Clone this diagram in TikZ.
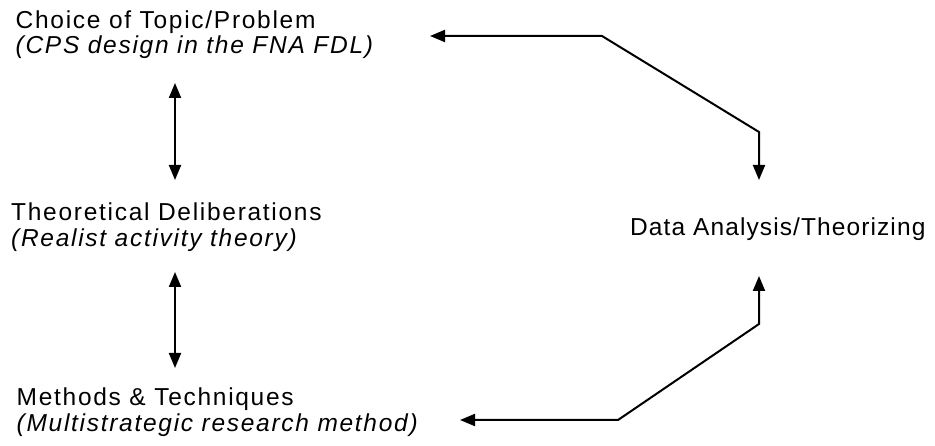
\documentclass[tikz,border=0pt]{standalone}
\usepackage{fontspec}
\setmainfont{Liberation Sans}[LetterSpace=7]
\usetikzlibrary{arrows.meta}
\begin{document}
\begin{tikzpicture}[x=1pt,y=-1pt,
  lbl/.style={anchor=base west, inner sep=0pt, font=\fontsize{24.5}{25.5}\selectfont},
  dconn/.style={line width=2pt, {Triangle[length=15pt,width=12pt]}-{Triangle[length=15pt,width=12pt]}}]
\useasboundingbox (0,0) rectangle (935,446);
\node[lbl] (choice) at (15.5,28.3) {\begin{tabular}[t]{@{}l@{}}Choice of Topic/Problem\\\itshape (CPS design in the FNA FDL)\end{tabular}};
\node[lbl] (theory) at (11,221) {\begin{tabular}[t]{@{}l@{}}Theoretical Deliberations\\\itshape (Realist activity theory)\end{tabular}};
\node[lbl] (methods) at (16.5,406) {\begin{tabular}[t]{@{}l@{}}Methods \& Techniques\\\itshape (Multistrategic research method)\end{tabular}};
\node[lbl] (data) at (630,236) {\addfontfeatures{LetterSpace=4.5}Data Analysis/Theorizing};
% left double arrows
\coordinate (a1) at (175,83);
\coordinate (a2) at (175,180);
\coordinate (b1) at (175,272);
\coordinate (b2) at (175,368);
\draw[dconn] (a1) -- (a2);
\draw[dconn] (b1) -- (b2);
% right connectors
\coordinate (t1) at (430,36);
\coordinate (t2) at (602,36);
\coordinate (t3) at (759,132);
\coordinate (t4) at (759,180);
\draw[dconn] (t1) -- (t2) -- (t3) -- (t4);
\coordinate (u1) at (460,420);
\coordinate (u2) at (618,420);
\coordinate (u3) at (759,324);
\coordinate (u4) at (759,276);
\draw[dconn] (u1) -- (u2) -- (u3) -- (u4);
\end{tikzpicture}
\end{document}
